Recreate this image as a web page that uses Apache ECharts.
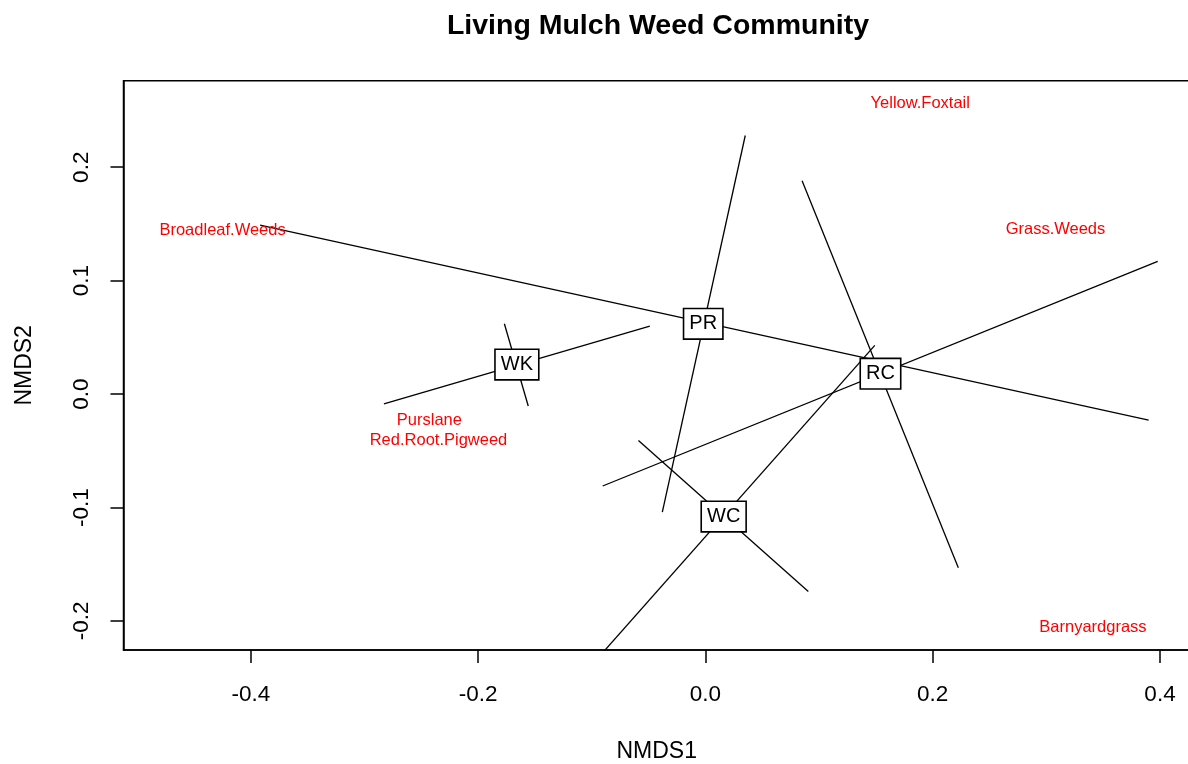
<!DOCTYPE html>
<html>
<head>
<meta charset="utf-8">
<script src="https://cdn.jsdelivr.net/npm/echarts@6/dist/echarts.min.js"></script>
<style>
html,body{margin:0;padding:0;background:#fff;}
#chart{width:1188px;height:764px;}
</style>
</head>
<body>
<div id="chart"></div>
<script>
// ---- data ----
var groups = ['WK', 'PR', 'RC', 'WC'];
var centroidX = [-0.166, -0.002, 0.154, 0.016];
var centroidY = [0.026, 0.062, 0.018, -0.108];

// first crossing line of each group (start / end)
var axis1StartX = [-0.283, -0.392, -0.0905, -0.117];
var axis1StartY = [-0.0087, 0.149, -0.081, -0.258];
var axis1EndX = [-0.049, 0.390, 0.398, 0.149];
var axis1EndY = [0.060, -0.023, 0.117, 0.043];
// second crossing line of each group
var axis2StartX = [-0.177, 0.035, 0.085, -0.059];
var axis2StartY = [0.062, 0.228, 0.188, -0.041];
var axis2EndX = [-0.156, -0.038, 0.2225, 0.0905];
var axis2EndY = [-0.0105, -0.104, -0.153, -0.174];

var species = ['Broadleaf.Weeds', 'Yellow.Foxtail', 'Grass.Weeds', 'Purslane', 'Red.Root.Pigweed', 'Barnyardgrass'];
var speciesX = [-0.425, 0.189, 0.308, -0.243, -0.235, 0.341];
var speciesY = [0.144, 0.256, 0.145, -0.023, -0.041, -0.206];

var xTicks = [-0.4, -0.2, 0.0, 0.2, 0.4];
var yTicks = [-0.2, -0.1, 0.0, 0.1, 0.2];

// ---- chart ----
var FONT = "'Liberation Sans', Arial, sans-serif";
var chart = echarts.init(document.getElementById('chart'), null, {renderer: 'canvas'});

var series = [];
for (var i = 0; i < groups.length; i++) {
  series.push({
    type: 'line', silent: true, symbol: 'none', clip: true, z: 2,
    lineStyle: {color: '#000', width: 1.3},
    data: [[axis1StartX[i], axis1StartY[i]], [axis1EndX[i], axis1EndY[i]]]
  });
  series.push({
    type: 'line', silent: true, symbol: 'none', clip: true, z: 2,
    lineStyle: {color: '#000', width: 1.3},
    data: [[axis2StartX[i], axis2StartY[i]], [axis2EndX[i], axis2EndY[i]]]
  });
}
series.push({
  type: 'scatter', silent: true, symbolSize: 1, z: 5,
  itemStyle: {color: 'rgba(0,0,0,0)', opacity: 1},
  label: {
    show: true, position: 'inside', formatter: function (p) { return p.data[2]; },
    color: '#000', fontFamily: FONT, fontSize: 20,
    backgroundColor: '#fff', borderColor: '#000', borderWidth: 1.6, padding: [5, 5, 4, 5]
  },
  data: groups.map(function (g, i) { return [centroidX[i], centroidY[i], g]; })
});
series.push({
  type: 'scatter', silent: true, symbolSize: 1, z: 6,
  itemStyle: {color: 'rgba(0,0,0,0)', opacity: 1},
  label: {
    show: true, position: 'inside', formatter: function (p) { return p.data[2]; },
    color: '#ff0000', fontFamily: FONT, fontSize: 16.5
  },
  data: species.map(function (s, i) { return [speciesX[i], speciesY[i], s]; })
});

var option = {
  animation: false,
  backgroundColor: '#fff',
  title: {
    text: 'Living Mulch Weed Community',
    left: 653, top: 7, textAlign: 'center',
    textStyle: {fontFamily: FONT, fontWeight: 'bold', fontSize: 28.5, color: '#000'}
  },
  grid: {
    left: 123.5, top: 80.7, right: -2, bottom: 114,
    outerBoundsMode: 'none', containLabel: false,
    show: true, borderColor: '#000', borderWidth: 1.5, backgroundColor: 'transparent'
  },
  xAxis: {
    type: 'value', min: -0.5122, max: 0.4264,
    name: 'NMDS1', nameLocation: 'middle', nameGap: 90,
    nameTextStyle: {fontFamily: FONT, fontSize: 23, color: '#000'},
    axisLine: {show: true, onZero: false, lineStyle: {color: '#000', width: 1.5}},
    axisTick: {show: true, inside: false, length: 13, customValues: xTicks, lineStyle: {color: '#000', width: 1.5}},
    axisLabel: {show: true, customValues: xTicks, margin: 33, fontFamily: FONT, fontSize: 22.5, color: '#000',
      formatter: function (v) { return v.toFixed(1); }},
    splitLine: {show: false}
  },
  yAxis: {
    type: 'value', min: -0.2256, max: 0.2763,
    name: 'NMDS2', nameLocation: 'middle', nameGap: 87, nameRotate: 90,
    nameTextStyle: {fontFamily: FONT, fontSize: 23, color: '#000'},
    axisLine: {show: true, onZero: false, lineStyle: {color: '#000', width: 1.5}},
    axisTick: {show: true, inside: false, length: 13, customValues: yTicks, lineStyle: {color: '#000', width: 1.5}},
    axisLabel: {show: true, customValues: yTicks, rotate: 90, margin: 30, fontFamily: FONT, fontSize: 22.5, color: '#000',
      formatter: function (v) { return v.toFixed(1); }},
    splitLine: {show: false}
  },
  series: series
};
chart.setOption(option);
</script>
</body>
</html>
